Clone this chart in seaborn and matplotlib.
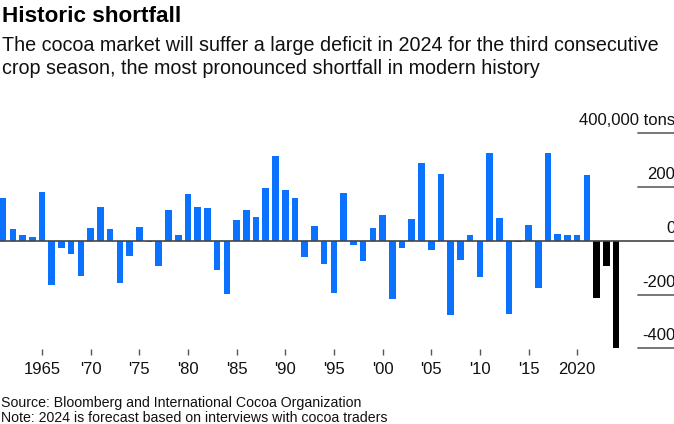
import matplotlib
matplotlib.use("Agg")
import matplotlib.pyplot as plt
import seaborn as sns
import pandas as pd

years = list(range(1961, 2025))
surplus = [158, 44, 22, 15, 180, -165, -28, -49, -130, 48,
           125, 43, -157, -58, 52, -6, -94, 116, 22, 175,
           126, 122, -110, -198, 79, 114, 88, 196, 314, 188,
           158, -59, 54, -88, -196, 177, -17, -75, 47, 96,
           -216, -27, 81, 288, -36, 248, -275, -73, 21, -136,
           328, 84, -272, -6, 58, -175, 328, 26, 22, 21,
           243, -212, -95, -398]
highlight_years = [2022, 2023, 2024]

tick_years = [1965, 1970, 1975, 1980, 1985, 1990, 1995, 2000, 2005, 2010, 2015, 2020]
tick_labels = ["1965", "'70", "'75", "'80", "'85", "'90", "'95", "'00", "'05", "'10", "'15", "2020"]
y_levels = [400, 200, 0, -200, -400]
y_labels = ["400,000 tons", "200", "0", "-200", "-400"]

BLUE = "#0a72ff"
BLACK = "#000000"

df = pd.DataFrame({"year": years, "value": surplus})
df["group"] = ["recent" if y in highlight_years else "hist" for y in years]

sns.set_theme(style="white")
plt.rcParams["font.family"] = ["Liberation Sans", "DejaVu Sans"]

W, H = 674, 424
fig = plt.figure(figsize=(W / 100, H / 100), dpi=100)

ax_top, ax_bot = 100, 349
ax = fig.add_axes([0, 1 - ax_bot / H, 1, (ax_bot - ax_top) / H])

sns.barplot(data=df, x="year", y="value", hue="group",
            palette={"hist": BLUE, "recent": BLACK}, saturation=1,
            width=0.68, dodge=False, legend=False, ax=ax,
            edgecolor="none", linewidth=0)

# scales: zero at 240.8 px, 0.26875 px per thousand tons
zero_px = 240.8
k = 0.26875
ax.set_ylim((zero_px - ax_bot) / k, (zero_px - ax_top) / k)
x0_px, step = 3.08, 9.73
ax.set_xlim((0 - x0_px) / step, (W - x0_px) / step)

for s in ax.spines.values():
    s.set_visible(False)

ax.axhline(0, color="#444444", lw=1.2, zorder=3)
for v, lab in zip(y_levels, y_labels):
    if v != 0:
        ax.axhline(v, xmin=638 / W, xmax=1, color="#777777", lw=1.4, zorder=3)
    ax.annotate(lab, xy=(1.0, v), xycoords=ax.get_yaxis_transform(),
                xytext=(1, 3.5), textcoords="offset points",
                ha="right", va="bottom", fontsize=12, color="#111111")

ax.set_xticks([y - years[0] for y in tick_years])
ax.set_xticklabels(tick_labels, fontsize=12, color="#111111")
ax.tick_params(axis="x", bottom=True, length=4.5, width=1, color="#555555",
               pad=4.5, direction="out")
ax.set_yticks([])
ax.set_xlabel("")
ax.set_ylabel("")

fig.text(2 / W, 1 - 22 / H, "Historic shortfall", fontsize=16.2,
         fontweight="bold", color="#000000", ha="left", va="baseline")
fig.text(2 / W, 1 - 51 / H, "The cocoa market will suffer a large deficit in 2024 for the third consecutive",
         fontsize=14.2, color="#111111", ha="left", va="baseline")
fig.text(2 / W, 1 - 74 / H, "crop season, the most pronounced shortfall in modern history",
         fontsize=14.2, color="#111111", ha="left", va="baseline")
fig.text(1 / W, 1 - 407 / H, "Source: Bloomberg and International Cocoa Organization",
         fontsize=10.2, color="#111111", ha="left", va="baseline")
fig.text(1 / W, 1 - 422 / H, "Note: 2024 is forecast based on interviews with cocoa traders",
         fontsize=10.2, color="#111111", ha="left", va="baseline")

fig.savefig("out.png", dpi=100)
